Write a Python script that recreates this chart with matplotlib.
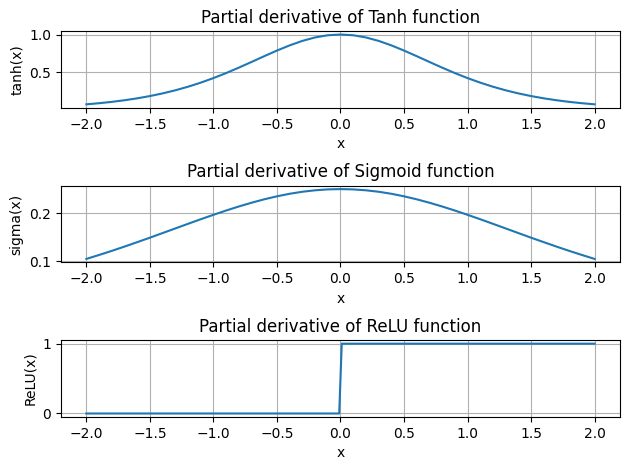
import matplotlib
matplotlib.use("Agg")
import matplotlib.pyplot as plt

x_pos = [0.0, 0.1, 0.2, 0.3, 0.4, 0.5, 0.6, 0.7, 0.8, 0.9, 1.0,
         1.1, 1.2, 1.3, 1.4, 1.5, 1.6, 1.7, 1.8, 1.9, 2.0]
tanh_pos = [1.0, 0.9901, 0.9610, 0.9151, 0.8556, 0.7864, 0.7116, 0.6347, 0.5591, 0.4869, 0.4200,
            0.3592, 0.3050, 0.2574, 0.2161, 0.1807, 0.1505, 0.1250, 0.1035, 0.0856, 0.0707]
sig_pos = [0.25, 0.2494, 0.2475, 0.2445, 0.2403, 0.2350, 0.2288, 0.2217, 0.2139, 0.2055, 0.1966,
           0.1874, 0.1779, 0.1683, 0.1587, 0.1491, 0.1398, 0.1306, 0.1217, 0.1132, 0.1050]

x_vals = [-v for v in x_pos[:0:-1]] + x_pos
tanh_vals = tanh_pos[:0:-1] + tanh_pos
sig_vals = sig_pos[:0:-1] + sig_pos

relu_x = [-2.0, -0.01, 0.01, 2.0]
relu_y = [0, 0, 1, 1]

fig, axes = plt.subplots(3, 1, figsize=(6.3, 4.7), dpi=100)

axes[0].plot(x_vals, tanh_vals)
axes[0].set_title("Partial derivative of Tanh function")
axes[0].set_xlabel("x")
axes[0].set_ylabel("tanh(x)")
axes[0].grid(True)

axes[1].plot(x_vals, sig_vals)
axes[1].set_title("Partial derivative of Sigmoid function")
axes[1].set_xlabel("x")
axes[1].set_ylabel("sigma(x)")
axes[1].grid(True)

axes[2].plot(relu_x, relu_y)
axes[2].set_title("Partial derivative of ReLU function")
axes[2].set_xlabel("x")
axes[2].set_ylabel("ReLU(x)")
axes[2].grid(True)

fig.subplots_adjust(left=0.0968, right=0.9841, top=0.934, bottom=0.1128, hspace=1.013)
fig.savefig("out.png")
